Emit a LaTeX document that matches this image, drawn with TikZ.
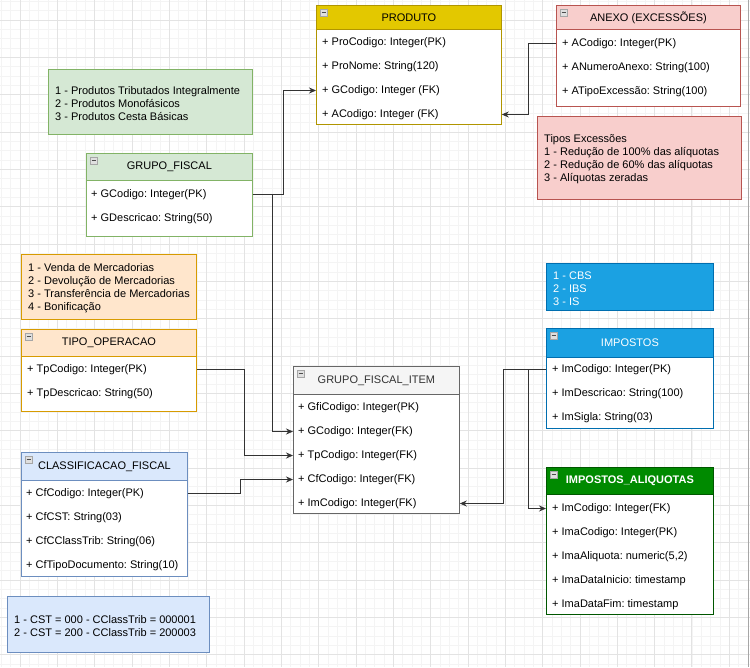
\documentclass[tikz,border=0pt]{standalone}
\usepackage{fontspec}
\setmainfont{Liberation Sans}
\usepackage{tikz}
\usetikzlibrary{arrows.meta, positioning, calc}
\definecolor{prodfill}{HTML}{E3C800}\definecolor{prodline}{HTML}{B09500}
\definecolor{redfill}{HTML}{F8CECC}\definecolor{redline}{HTML}{B85450}
\definecolor{greenfill}{HTML}{D5E8D4}\definecolor{greenline}{HTML}{82B366}
\definecolor{orangefill}{HTML}{FFE6CC}\definecolor{orangeline}{HTML}{D79B00}
\definecolor{bluefill}{HTML}{DAE8FC}\definecolor{blueline}{HTML}{6C8EBF}
\definecolor{grayfill}{HTML}{F5F5F5}\definecolor{grayline}{HTML}{666666}
\definecolor{cyanfill}{HTML}{1BA1E2}\definecolor{cyanline}{HTML}{006EAF}
\definecolor{darkgreen}{HTML}{008A00}\definecolor{darkgreenline}{HTML}{005700}
\newcommand{\rowfont}{\fontsize{11}{13}\selectfont\frenchspacing}

\begin{document}
\begin{tikzpicture}[x=1pt, y=-1pt,
    gridmin/.style={draw=gray!9, line width=0.5pt},
    gridmaj/.style={draw=gray!22, line width=0.6pt},
    head/.style={anchor=north west, inner sep=0pt, font=\rowfont, line width=0.8pt},
    body/.style={anchor=north west, inner sep=0pt, fill=white, line width=0.8pt},
    row/.style={anchor=west, inner sep=0pt, font=\rowfont, yshift=-1.5pt},
    note/.style={anchor=north west, inner sep=0pt, line width=0.8pt},
    notetext/.style={anchor=west, inner sep=0pt, align=left, font=\rowfont},
    minus/.style={anchor=north west, draw=gray!70, fill=gray!25, minimum width=7pt, minimum height=7pt, inner sep=0pt,
      path picture={\draw[black!70, line width=1pt] ([xshift=1.5pt]path picture bounding box.west) -- ([xshift=-1.5pt]path picture bounding box.east);}},
    link/.style={draw=black!80, line width=0.8pt, -{Stealth[length=7pt, width=6pt]}}]
  \useasboundingbox (0,0) rectangle (750,667);
  \fill[white] (0,0) rectangle (750,667);
  % grid
  \foreach \k in {0,...,80} {
    \draw[gridmin] ({1.35+\k*9.33},0) -- ++(0,667);
    \draw[gridmin] (0,{1.35+\k*9.33}) -- ++(750,0);
  }
  \foreach \k in {0,...,20} {
    \draw[gridmaj] ({20+\k*37.32},0) -- ++(0,667);
    \draw[gridmaj] (0,{20+\k*37.32}) -- ++(750,0);
  }
  \draw[gray!70] (748,0) -- (748,667);

  % 1. PRODUTO
  \node[body, draw=prodline, minimum width=185pt, minimum height=95pt] (proB) at (316,29) {};
  \node[head, fill=prodfill, draw=prodline, minimum width=185pt, minimum height=24pt] (proH) at (316,5) {PRODUTO};
  \node[minus] (proM) at ([shift={(4,4)}]proH.north west) {};
  \foreach \i/\t in {1/{+ ProCodigo: Integer(PK)}, 2/{+ ProNome: String(120)}, 3/{+ GCodigo: Integer (FK)}, 4/{+ ACodigo: Integer (FK)}}
    \node[row] (pro\i) at (322,{17+24*\i}) {\t};

  % 2. ANEXO (EXCESSOES)
  \node[body, draw=redline, minimum width=184pt, minimum height=77pt] (anB) at (556,29) {};
  \node[head, fill=redfill, draw=redline, minimum width=184pt, minimum height=24pt] (anH) at (556,5) {ANEXO (EXCESSÕES)};
  \node[minus] (anM) at ([shift={(4,4)}]anH.north west) {};
  \foreach \i/\t in {1/{+ ACodigo: Integer(PK)}, 2/{+ ANumeroAnexo: String(100)}, 3/{+ ATipoExcessão: String(100)}}
    \node[row] (an\i) at (562,{18+24*\i}) {\t};
  \node[note, fill=redfill, draw=redline, minimum width=204pt, minimum height=83pt] (anN) at (537,116) {};
  \node[notetext] (anT) at ([xshift=7pt, yshift=-1.5pt]anN.west)
    {Tipos Excessões\\1 - Redução de 100\% das alíquotas\\2 - Redução de 60\% das alíquotas\\3 - Alíquotas zeradas};

  % 3. GRUPO_FISCAL
  \node[note, fill=greenfill, draw=greenline, minimum width=204pt, minimum height=65pt] (gfN) at (48,69) {};
  \node[notetext] (gfT) at ([xshift=7pt, yshift=-1.5pt]gfN.west)
    {1 - Produtos Tributados Integralmente\\2 - Produtos Monofásicos\\3 - Produtos Cesta Básicas};
  \node[body, draw=greenline, minimum width=166pt, minimum height=56pt] (gfB) at (86,180) {};
  \node[head, fill=greenfill, draw=greenline, minimum width=166pt, minimum height=27pt] (gfH) at (86,153) {GRUPO\_FISCAL};
  \node[minus] (gfM) at ([shift={(4,4)}]gfH.north west) {};
  \foreach \i/\t in {1/{+ GCodigo: Integer(PK)}, 2/{+ GDescricao: String(50)}}
    \node[row] (gf\i) at (91,{169+24*\i}) {\t};

  % 4. TIPO_OPERACAO
  \node[note, fill=orangefill, draw=orangeline, minimum width=175pt, minimum height=65pt] (tpN) at (21,254) {};
  \node[notetext] (tpT) at ([xshift=7pt, yshift=-1.5pt]tpN.west)
    {1 - Venda de Mercadorias\\2 - Devolução de Mercadorias\\3 - Transferência de Mercadorias\\4 - Bonificação};
  \node[body, draw=orangeline, minimum width=175pt, minimum height=55pt] (tpB) at (21,356) {};
  \node[head, fill=orangefill, draw=orangeline, minimum width=175pt, minimum height=27pt] (tpH) at (21,329) {TIPO\_OPERACAO};
  \node[minus] (tpM) at ([shift={(4,4)}]tpH.north west) {};
  \foreach \i/\t in {1/{+ TpCodigo: Integer(PK)}, 2/{+ TpDescricao: String(50)}}
    \node[row] (tp\i) at (27,{344+24*\i}) {\t};

  % 5. CLASSIFICACAO_FISCAL
  \node[body, draw=blueline, minimum width=166pt, minimum height=96pt] (cfB) at (21,480) {};
  \node[head, fill=bluefill, draw=blueline, minimum width=166pt, minimum height=28pt] (cfH) at (21,452) {CLASSIFICACAO\_FISCAL};
  \node[minus] (cfM) at ([shift={(4,4)}]cfH.north west) {};
  \foreach \i/\t in {1/{+ CfCodigo: Integer(PK)}, 2/{+ CfCST: String(03)}, 3/{+ CfCClassTrib: String(06)}, 4/{+ CfTipoDocumento: String(10)}}
    \node[row] (cf\i) at (26,{468+24*\i}) {\t};
  \node[note, fill=bluefill, draw=blueline, minimum width=202pt, minimum height=56pt] (cfN) at (7,596) {};
  \node[notetext] (cfT) at ([xshift=7pt, yshift=-1.5pt]cfN.west)
    {1 - CST = 000 - CClassTrib = 000001\\2 - CST = 200 - CClassTrib = 200003};

  % 6. GRUPO_FISCAL_ITEM
  \node[body, draw=grayline, minimum width=166pt, minimum height=119pt] (gfiB) at (293,394) {};
  \node[head, fill=grayfill, draw=grayline, text=black!80, minimum width=166pt, minimum height=28pt] (gfiH) at (293,366) {GRUPO\_FISCAL\_ITEM};
  \node[minus] (gfiM) at ([shift={(4,4)}]gfiH.north west) {};
  \foreach \i/\t in {1/{+ GfiCodigo: Integer(PK)}, 2/{+ GCodigo: Integer(FK)}, 3/{+ TpCodigo: Integer(FK)}, 4/{+ CfCodigo: Integer(FK)}, 5/{+ ImCodigo: Integer(FK)}}
    \node[row] (gfi\i) at (298,{382+24*\i}) {\t};

  % 7. IMPOSTOS
  \node[note, fill=cyanfill, draw=cyanline, minimum width=167pt, minimum height=47pt] (imN) at (546,263) {};
  \node[notetext, text=white] (imT) at ([xshift=7pt, yshift=-1.5pt]imN.west) {1 - CBS\\2 - IBS\\3 - IS};
  \node[body, draw=cyanline, minimum width=167pt, minimum height=71pt] (imB) at (546,357) {};
  \node[head, fill=cyanfill, draw=cyanline, text=white, minimum width=167pt, minimum height=29pt] (imH) at (546,328) {IMPOSTOS};
  \node[minus] (imM) at ([shift={(4,4)}]imH.north west) {};
  \foreach \i/\t in {1/{+ ImCodigo: Integer(PK)}, 2/{+ ImDescricao: String(100)}, 3/{+ ImSigla: String(03)}}
    \node[row] (im\i) at (552,{344+24*\i}) {\t};

  % 8. IMPOSTOS_ALIQUOTAS
  \node[body, draw=darkgreenline, minimum width=167pt, minimum height=120pt] (iaB) at (546,494) {};
  \node[head, fill=darkgreen, draw=darkgreenline, text=white, font=\rowfont\bfseries, minimum width=167pt, minimum height=27pt] (iaH) at (546,467) {IMPOSTOS\_ALIQUOTAS};
  \node[minus] (iaM) at ([shift={(4,4)}]iaH.north west) {};
  \foreach \i/\t in {1/{+ ImCodigo: Integer(FK)}, 2/{+ ImaCodigo: Integer(PK)}, 3/{+ ImaAliquota: numeric(5,2)}, 4/{+ ImaDataInicio: timestamp}, 5/{+ ImaDataFim: timestamp}}
    \node[row] (ia\i) at (552,{483+24*\i}) {\t};

  % connectors
  \draw[link] (gfB.east |- gf1) -- ++(31,0) |- (proB.west |- pro3);
  \draw[link] (gfB.east |- gf1) -- ++(20,0) |- (gfiB.west |- gfi2);
  \draw[link] (tpB.east |- tp1) -- ++(48,0) |- (gfiB.west |- gfi3);
  \draw[link] (cfB.east |- cf1) -- ++(53,0) |- (gfiB.west |- gfi4);
  \draw[link] (anB.west |- an1) -- ++(-28,0) |- (proB.east |- pro4);
  \draw[link] (imB.west |- im1) -- ++(-43,0) |- (gfiB.east |- gfi5);
  \draw[link] (imB.west |- im1) -- ++(-18,0) |- (iaB.west |- ia1);
\end{tikzpicture}
\end{document}
